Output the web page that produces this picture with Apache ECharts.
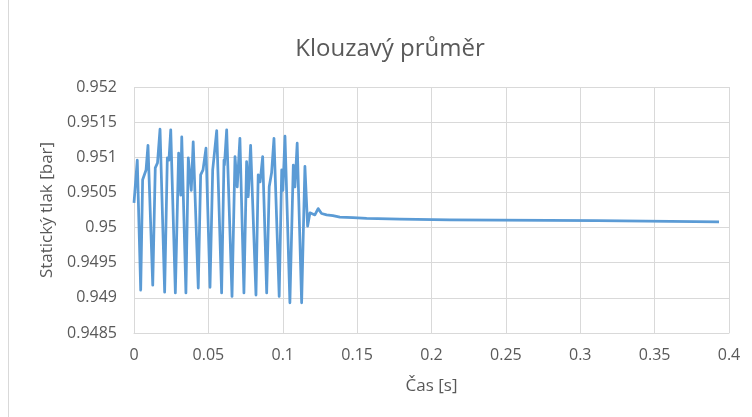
<!DOCTYPE html>
<html>
<head>
<meta charset="utf-8">
<script src="https://cdn.jsdelivr.net/npm/echarts@6/dist/echarts.min.js"></script>
<style>html,body{margin:0;padding:0;background:#fff}#c{width:752px;height:417px}</style>
</head>
<body>
<div id="c"></div>
<script>
const chartTitle = 'Klouzavý průměr';
const xAxisTitle = 'Čas [s]';
const yAxisTitle = 'Statický tlak [bar]';
const timeS = [0, 0.0022, 0.0045, 0.0058, 0.0081, 0.0094, 0.0126, 0.0143, 0.0158, 0.0175, 0.0206, 0.0224, 0.0235, 0.0247, 0.0278, 0.0300, 0.0314, 0.0321, 0.0349, 0.0365, 0.0385, 0.0398, 0.0432, 0.0448, 0.0464, 0.0484, 0.0511, 0.0529, 0.0556, 0.0589, 0.0605, 0.0608, 0.0623, 0.0659, 0.0679, 0.0694, 0.0712, 0.0739, 0.0757, 0.0768, 0.0784, 0.0820, 0.0835, 0.0848, 0.0865, 0.0874, 0.0892, 0.0909, 0.0925, 0.0941, 0.0976, 0.0993, 0.1001, 0.1015, 0.1048, 0.1071, 0.1082, 0.1097, 0.1127, 0.1149, 0.1167, 0.1183, 0.1194, 0.1216, 0.1238, 0.1261, 0.1295, 0.1337, 0.1384, 0.1472, 0.1564, 0.1788, 0.2124, 0.3112, 0.3118, 0.3933];
const pressureBar = [0.95035, 0.95096, 0.94911, 0.95068, 0.95082, 0.95117, 0.94918, 0.95085, 0.95092, 0.9514, 0.94908, 0.95099, 0.95096, 0.95139, 0.94907, 0.95106, 0.95046, 0.95129, 0.94907, 0.95099, 0.95053, 0.95122, 0.94914, 0.95075, 0.95082, 0.95113, 0.94915, 0.95082, 0.95138, 0.94907, 0.95096, 0.95089, 0.95139, 0.94902, 0.95101, 0.95058, 0.95127, 0.94907, 0.95094, 0.95044, 0.95117, 0.94904, 0.95075, 0.95065, 0.95101, 0.95103, 0.94907, 0.95058, 0.95078, 0.95127, 0.94902, 0.95082, 0.95053, 0.9513, 0.94893, 0.95089, 0.95058, 0.9512, 0.94893, 0.95087, 0.95002, 0.95021, 0.95023, 0.95018, 0.95027, 0.9502, 0.95018, 0.95017, 0.95015, 0.95014, 0.95013, 0.95012, 0.95011, 0.9501, 0.95008, 0.95008];
const xTicks = { min: 0, max: 0.4, interval: 0.05 };
const yTicks = { min: 0.9485, max: 0.952, interval: 0.0005 };

const txt = '#595959';
const font = '"Open Sans", "Noto Sans", sans-serif';
const fmt = v => String(parseFloat(v.toFixed(4)));
const chart = echarts.init(document.getElementById('c'), null, { renderer: 'canvas' });
chart.setOption({
  backgroundColor: '#fff',
  animation: false,
  title: {
    text: chartTitle, left: 385, top: 32, textAlign: 'center',
    textStyle: { color: txt, fontSize: 24, fontWeight: 'normal', fontFamily: font }
  },
  graphic: [{ type: 'line', shape: { x1: 8.5, y1: 0, x2: 8.5, y2: 417 }, style: { stroke: '#d9d9d9', lineWidth: 1 } }],
  grid: { left: 134, right: 23, top: 87, bottom: 84, containLabel: false },
  xAxis: {
    type: 'value', min: xTicks.min, max: xTicks.max, interval: xTicks.interval,
    name: xAxisTitle, nameLocation: 'middle', nameGap: 45,
    nameTextStyle: { color: txt, fontSize: 17, fontFamily: font },
    axisLine: { show: true, lineStyle: { color: '#d9d9d9' } },
    axisTick: { show: false },
    splitLine: { show: true, lineStyle: { color: '#d9d9d9' } },
    axisLabel: { color: txt, fontSize: 16, fontFamily: font, margin: 14, formatter: fmt }
  },
  yAxis: {
    type: 'value', min: yTicks.min, max: yTicks.max, interval: yTicks.interval,
    name: yAxisTitle, nameLocation: 'middle', nameGap: 78,
    nameTextStyle: { color: txt, fontSize: 17, fontFamily: font },
    axisLine: { show: false },
    axisTick: { show: false },
    splitLine: { show: true, lineStyle: { color: '#d9d9d9' } },
    axisLabel: { color: txt, fontSize: 16, fontFamily: font, margin: 17, formatter: fmt }
  },
  series: [{
    type: 'line', showSymbol: false, symbol: 'none',
    data: timeS.map((t, i) => [t, pressureBar[i]]),
    lineStyle: { color: '#5b9bd5', width: 2.75, join: 'round' }
  }]
});
</script>
</body>
</html>
